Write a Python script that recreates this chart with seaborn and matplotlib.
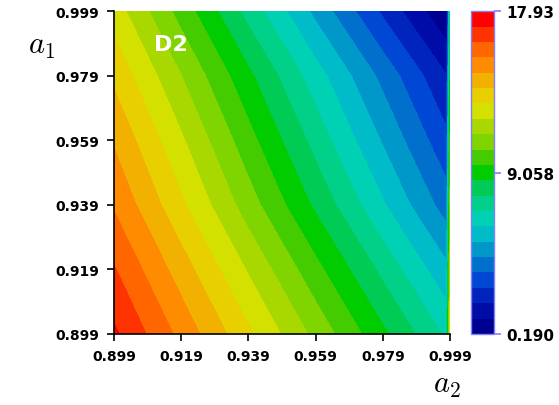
import numpy as np
import matplotlib
matplotlib.use("Agg")
import matplotlib.pyplot as plt
import seaborn as sns
from matplotlib.colors import ListedColormap, BoundaryNorm

# grid positions (a2 along x, a1 along y)
a2_vals = [0.899, 0.919, 0.939, 0.959, 0.979, 0.998, 0.999]
a1_vals = [0.899, 0.919, 0.939, 0.959, 0.979, 0.999]

# field values, one list per a1 row
f_a1_0899 = [17.24, 15.14, 13.02, 10.92, 8.82, 6.79, 12.6]
f_a1_0919 = [16.31, 14.13, 11.92, 9.74, 7.56, 5.45, 11.6]
f_a1_0939 = [15.29, 13.03, 10.73, 8.47, 6.20, 4.00, 10.6]
f_a1_0959 = [14.45, 12.14, 9.79, 7.48, 5.17, 2.93, 9.6]
f_a1_0979 = [13.51, 11.18, 8.82, 6.49, 4.16, 1.90, 8.6]
f_a1_0999 = [12.46, 9.99, 7.50, 5.03, 2.57, 0.30, 7.6]

f_min, f_mid, f_max = 0.190, 9.058, 17.93
cbar_labels = ["0.190", "9.058", "17.93"]

# 21 band colours, low to high
band_colors = ["#000090", "#000ca8", "#0024bc", "#0048d4", "#0070cc", "#0098c8",
               "#00bcc8", "#00d0b4", "#00d088", "#00cc55", "#00cc00", "#44cc00",
               "#80d400", "#a8d800", "#d4e000", "#e8d000", "#f2b000", "#ff8c00",
               "#ff6600", "#ff3300", "#ff0000"]

sns.set_theme(style="ticks")
plt.rcParams["font.family"] = ["DejaVu Sans"]
plt.rcParams["mathtext.fontset"] = "cm"
plt.rcParams["text.color"] = "black"
plt.rcParams["xtick.color"] = "black"
plt.rcParams["ytick.color"] = "black"

Z = np.array([f_a1_0899, f_a1_0919, f_a1_0939, f_a1_0959, f_a1_0979, f_a1_0999])
X, Y = np.meshgrid(a2_vals, a1_vals)

levels = np.linspace(f_min, f_max, len(band_colors) + 1)
cmap = ListedColormap(band_colors)
norm = BoundaryNorm(levels, cmap.N)

fig = plt.figure(figsize=(5.59, 4.06), dpi=100)
ax = fig.add_axes([0.204, 0.175, 0.601, 0.795])
cax = fig.add_axes([0.843, 0.175, 0.041, 0.795])

cs = ax.contourf(X, Y, Z, levels=levels, cmap=cmap, norm=norm)

ax.set_xlim(0.899, 0.999)
ax.set_ylim(0.899, 0.999)
ticks = [0.899, 0.919, 0.939, 0.959, 0.979, 0.999]
ax.set_xticks(ticks)
ax.set_yticks(ticks)
ax.set_xticklabels([f"{t:.3f}" for t in ticks], fontweight="bold", fontsize=10)
ax.set_yticklabels([f"{t:.3f}" for t in ticks], fontweight="bold", fontsize=10)
ax.tick_params(direction="out", length=5, width=1.2, colors="black", pad=6)
for side in ["top", "right"]:
    ax.spines[side].set_visible(False)
for side in ["left", "bottom"]:
    ax.spines[side].set_color("black")
    ax.spines[side].set_linewidth(1.2)

ax.text(0.911, 0.9888, "D2", color="white", fontsize=16, fontweight="bold",
        va="center", ha="left")

fig.text(0.075, 0.885, r"$a_1$", fontsize=22, ha="center", va="center")
fig.text(0.8, 0.05, r"$a_2$", fontsize=22, ha="center", va="center")

cb = fig.colorbar(cs, cax=cax, ticks=[f_min, f_mid, f_max])
cb.ax.minorticks_off()
cb.ax.set_yticklabels(cbar_labels, fontweight="bold", fontsize=11)
cb.ax.tick_params(direction="out", length=5, width=1.2, color="#8080ff",
                  labelcolor="black", pad=4)
cb.outline.set_edgecolor("#8080ff")
cb.outline.set_linewidth(1.0)

fig.savefig("out.png", dpi=100)
